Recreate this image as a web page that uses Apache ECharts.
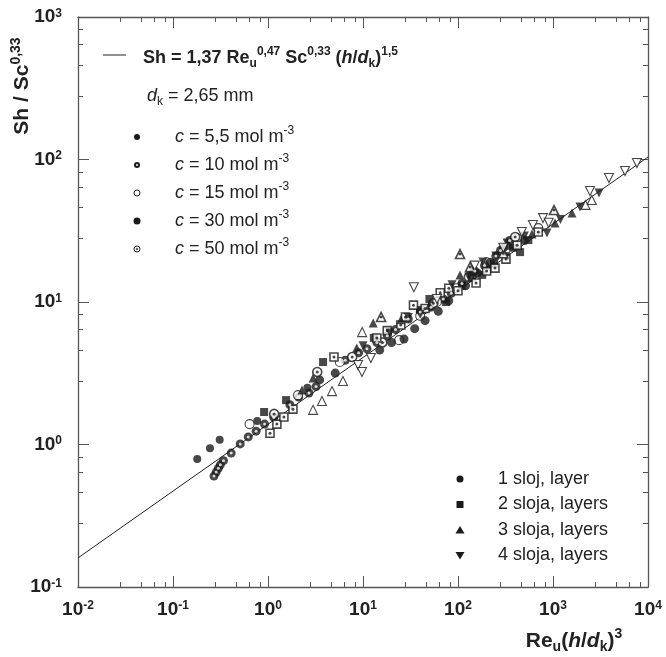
<!DOCTYPE html>
<html>
<head>
<meta charset="utf-8">
<script src="https://cdn.jsdelivr.net/npm/echarts@6/dist/echarts.min.js"></script>
<style>
  html, body { margin: 0; padding: 0; background: #fff; }
  #chart { width: 666px; height: 657px; }
</style>
</head>
<body>
<div id="chart"></div>
<script>
// axis ranges (decade ticks come from the log axes)
const xRange = [0.01, 10000]
const yRange = [0.1, 1000]

const fitLine = [[0.01, 0.16], [10000, 104]]

// 1 sloj (circles)
const c55Circle = [[0.18, 0.79], [0.245, 0.94], [0.31, 1.08], [0.77, 1.46], [2.6, 2.5]]
const c10Circle = [[0.27, 0.60], [0.285, 0.64], [0.30, 0.68], [0.315, 0.72], [0.34, 0.77], [0.41, 0.87],
  [0.51, 1.01], [0.62, 1.13], [0.75, 1.24], [0.92, 1.39], [1.15, 1.55], [1.7, 1.9], [2.1, 2.15],
  [2.7, 2.3], [3.2, 2.55], [6.5, 3.9], [9, 4.4], [11, 4.7], [14, 5.2], [18, 5.8], [22, 6.4], [30, 7.6],
  [40, 8.5], [52, 9.2], [70, 10.5], [85, 11.5], [110, 13.5], [150, 16.5], [190, 18], [250, 21],
  [280, 23], [350, 27]]
const c15Circle = [[0.64, 1.39], [2.07, 2.22], [5.7, 3.79], [24, 5.4], [40, 8], [60, 10], [95, 12.5],
  [140, 15.5], [200, 19], [420, 28], [700, 33]]
const c30Circle = [[3.5, 2.84], [5.1, 3.17], [15, 4.6], [20, 5.2], [27, 5.5], [35, 6.5], [45, 7.4],
  [62, 8.6], [80, 10.2], [120, 13], [160, 16], [220, 19], [300, 24], [500, 27]]
const c50Circle = [[1.16, 1.64], [3.3, 3.23], [7.7, 4.11], [16, 5.2], [55, 9.8], [130, 15], [400, 28.6]]

// 2 sloja (squares)
const fullSquare = [[0.91, 1.69], [1.55, 2.05], [3.8, 3.79], [13, 5.6], [40, 8.8], [50, 10.5], [75, 10],
  [110, 13], [140, 14.8], [180, 15.5], [240, 18.5], [320, 21], [380, 24], [450, 22.4], [550, 27.2]]
const dotSquare = [[1.05, 1.2], [1.24, 1.39], [1.47, 1.56], [1.83, 1.77], [4.95, 4.11], [14, 5.59],
  [18, 6.3], [25, 6.9], [28, 7.85], [34, 9.5], [45, 9], [65, 11.6], [80, 12.5], [100, 12], [155, 13.6],
  [200, 16.5], [245, 17.3], [320, 20], [420, 25], [700, 31]]

// 3 sloja (triangles)
const fullTriangle = [[2.28, 2.41], [2.98, 2.93], [8.6, 4.75], [12.8, 7.12], [25, 7.5], [50, 9.5],
  [105, 15.5], [140, 16.5], [200, 18.5], [350, 25], [600, 30], [1050, 35.8], [1585, 42.2]]
const openTriangle = [[2.98, 1.75], [3.7, 2.02], [4.72, 2.37], [6.15, 2.79], [9.8, 6.15], [2200, 48], [2560, 52]]
const dotTriangle = [[15.5, 7.85], [105, 21.7], [134, 17.6], [300, 22], [1025, 44.2]]

// 4 sloja (down triangles)
const fullDown = [[10, 4.93], [19.2, 6.06], [30, 7.8], [40, 8.2], [86.5, 13.2], [130, 15], [183, 19.1],
  [250, 21], [328, 25.9], [500, 29], [865, 30.5], [1200, 38], [1923, 46.4], [3050, 58.2]]
const openDown = [[8.86, 3.61], [9.75, 3.23], [12.1, 4.05], [34.3, 12.7], [60, 10.5], [150, 18],
  [300, 24], [470, 31], [615, 34.7], [785, 38.8], [900, 36], [2450, 60.1], [3880, 74.1], [5730, 83], [7650, 94.4]]

const FONT = 'Liberation Sans, Arial, Helvetica, sans-serif'
const INK = '#1a1a1a'
const AXIS = '#555'

function pts(name, data, symbol, kind, size, rotate) {
  const hollow = kind === 'open' || kind === 'dot'
  const out = [{
    name: name,
    type: 'scatter',
    data: data,
    symbol: symbol,
    symbolSize: size,
    symbolRotate: rotate || 0,
    z: 3,
    itemStyle: hollow
      ? { color: '#fff', borderColor: INK, borderWidth: kind === 'dot' ? 1.6 : 1.1 }
      : { color: INK }
  }]
  if (kind === 'ring' || kind === 'dot') {
    out.push({
      name: name + ' centre',
      type: 'scatter',
      data: data,
      symbol: 'circle',
      symbolSize: 3,
      silent: true,
      z: 4,
      itemStyle: { color: kind === 'ring' ? '#fff' : INK }
    })
  }
  return out
}

function powLabel(v) {
  return '{b|10}{s|' + Math.round(Math.log10(v)) + '}'
}

// same axis set-up as the tick test that rendered correctly
function logAxis(range, position, labels) {
  const a = {
    type: 'log',
    min: range[0],
    max: range[1],
    position: position,
    axisLine: { show: true, lineStyle: { color: AXIS, width: 1.3 } },
    axisTick: { show: true, inside: true, length: 11 },
    minorTick: { show: true, length: 5 },
    axisLabel: labels ? { show: true, margin: position === 'bottom' ? 13 : 16 } : { show: false },
    splitLine: { show: false },
    minorSplitLine: { show: false }
  }
  a.logBase = 10
  a.axisLine.onZero = false
  a.axisTick.lineStyle = { color: AXIS, width: 1 }
  a.minorTick.lineStyle = { color: AXIS, width: 1 }
  if (labels) {
    a.axisLabel.formatter = powLabel
    a.axisLabel.rich = {
      b: { fontSize: 19, fontWeight: 'bold', fontFamily: FONT, color: '#222' },
      s: { fontSize: 12, fontWeight: 'bold', fontFamily: FONT, color: '#222', verticalAlign: 'top' }
    }
  }
  return a
}

// legend rich styles (graphic text)
const gRich = {
  n: { fontSize: 18, fontFamily: FONT, fill: '#222', lineHeight: 24 },
  i: { fontSize: 18, fontFamily: FONT, fontStyle: 'italic', fill: '#222', lineHeight: 24 },
  b: { fontSize: 18, fontFamily: FONT, fontWeight: 'bold', fill: '#222', lineHeight: 24 },
  bi: { fontSize: 18, fontFamily: FONT, fontWeight: 'bold', fontStyle: 'italic', fill: '#222', lineHeight: 24 },
  sup: { fontSize: 12, fontFamily: FONT, fill: '#222', lineHeight: 12, verticalAlign: 'top' },
  sub: { fontSize: 12, fontFamily: FONT, fill: '#222', lineHeight: 12, verticalAlign: 'bottom' },
  bsup: { fontSize: 12, fontFamily: FONT, fontWeight: 'bold', fill: '#222', lineHeight: 12, verticalAlign: 'top' },
  bsub: { fontSize: 12, fontFamily: FONT, fontWeight: 'bold', fill: '#222', lineHeight: 12, verticalAlign: 'bottom' },
  tb: { fontSize: 21, fontFamily: FONT, fontWeight: 'bold', fill: '#222', lineHeight: 27 },
  tbi: { fontSize: 21, fontFamily: FONT, fontWeight: 'bold', fontStyle: 'italic', fill: '#222', lineHeight: 27 },
  tsup: { fontSize: 14, fontFamily: FONT, fontWeight: 'bold', fill: '#222', lineHeight: 14, verticalAlign: 'top' },
  tsub: { fontSize: 14, fontFamily: FONT, fontWeight: 'bold', fill: '#222', lineHeight: 14, verticalAlign: 'bottom' }
}

function gText(x, y, text, align, vAlign, rotation) {
  return {
    type: 'text', x: x, y: y, z: 10, rotation: rotation || 0,
    style: { text: text, rich: gRich, fontSize: 18, fontFamily: FONT, fill: '#222',
      align: align || 'left', verticalAlign: vAlign || 'middle' }
  }
}

const concLabels = ['5,5', '10', '15', '30', '50']
const layerLabels = ['1 sloj, layer', '2 sloja, layers', '3 sloja, layers', '4 sloja, layers']

const graphics = []
graphics.push({ type: 'line', z: 10, shape: { x1: 103, y1: 55, x2: 126, y2: 55 }, style: { stroke: '#222', lineWidth: 1 } })
graphics.push(gText(143, 58,
  '{b|Sh = 1,37 Re}{bsub|u}{bsup|0,47}{b| Sc}{bsup|0,33}{b| (}{bi|h}{b|/}{bi|d}{bsub|k}{b|)}{bsup|1,5}'))
graphics.push(gText(147, 96, '{i|d}{sub|k}{n| = 2,65 mm}'))
concLabels.forEach(function (c, k) {
  const y = 137 + k * 28
  graphics.push(gText(175, y, '{i|c}{n| = ' + c + ' mol m}{sup|-3}'))
  const r = k === 3 ? 3.5 : 3
  const hollow = k === 2 || k === 4
  graphics.push({ type: 'circle', z: 10, shape: { cx: 137, cy: y, r: r },
    style: hollow ? { fill: '#fff', stroke: INK, lineWidth: 1 } : { fill: INK } })
  if (k === 1) graphics.push({ type: 'circle', z: 11, shape: { cx: 137, cy: y, r: 1 }, style: { fill: '#fff' } })
  if (k === 4) graphics.push({ type: 'circle', z: 11, shape: { cx: 137, cy: y, r: 1.2 }, style: { fill: '#666' } })
})
layerLabels.forEach(function (t, k) {
  const y = 479 + k * 25.5
  graphics.push(gText(498, y, '{n|' + t + '}'))
  let g
  if (k === 0) g = { type: 'circle', shape: { cx: 460, cy: y, r: 3.5 } }
  else if (k === 1) g = { type: 'rect', shape: { x: 456.5, y: y - 3.5, width: 7, height: 7 } }
  else if (k === 2) g = { type: 'polygon', shape: { points: [[460, y - 4], [464.5, y + 3.5], [455.5, y + 3.5]] } }
  else g = { type: 'polygon', shape: { points: [[460, y + 4], [464.5, y - 3.5], [455.5, y - 3.5]] } }
  g.z = 10
  g.style = { fill: INK }
  graphics.push(g)
})
// axis titles
graphics.push(gText(36, 86, '{tb|Sh / Sc}{tsup|0,33}', 'center', 'bottom', Math.PI / 2))
graphics.push(gText(574, 641, '{tb|Re}{tsub|u}{tb|(}{tbi|h}{tb|/}{tbi|d}{tsub|k}{tb|)}{tsup|3}', 'center', 'middle'))

let series = [{
  name: 'fit',
  type: 'line',
  data: fitLine,
  showSymbol: false,
  symbol: 'none',
  z: 2,
  lineStyle: { color: '#222', width: 1 }
}]
series = series
  .concat(pts('c=5,5 1 sloj', c55Circle, 'circle', 'filled', 8))
  .concat(pts('c=10 1 sloj', c10Circle, 'circle', 'ring', 9))
  .concat(pts('c=15 1 sloj', c15Circle, 'circle', 'open', 9))
  .concat(pts('c=30 1 sloj', c30Circle, 'circle', 'filled', 9))
  .concat(pts('c=50 1 sloj', c50Circle, 'circle', 'dot', 9))
  .concat(pts('2 sloja', fullSquare, 'rect', 'filled', 8))
  .concat(pts('2 sloja dot', dotSquare, 'rect', 'dot', 8))
  .concat(pts('3 sloja', fullTriangle, 'triangle', 'filled', 9))
  .concat(pts('3 sloja open', openTriangle, 'triangle', 'open', 9))
  .concat(pts('3 sloja dot', dotTriangle, 'triangle', 'dot', 9))
  .concat(pts('4 sloja', fullDown, 'triangle', 'filled', 9, 180))
  .concat(pts('4 sloja open', openDown, 'triangle', 'open', 9, 180))

const chart = echarts.init(document.getElementById('chart'))
chart.setOption({
  animation: false,
  grid: { left: 78, right: 18, top: 17, bottom: 70 },
  xAxis: [
    logAxis(xRange, 'bottom', true),
    logAxis(xRange, 'top', false)
  ],
  yAxis: [
    logAxis(yRange, 'left', true),
    logAxis(yRange, 'right', false)
  ],
  series: series,
  graphic: graphics
})
</script>
</body>
</html>
